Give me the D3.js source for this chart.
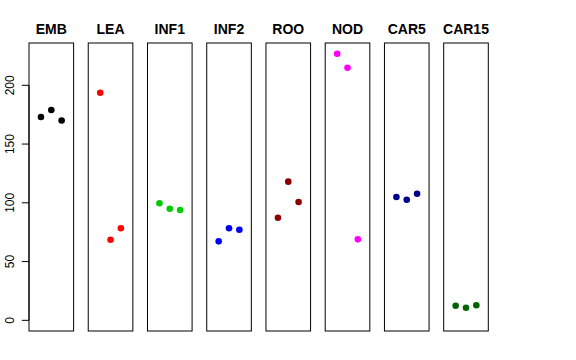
<!DOCTYPE html>
<html><head><meta charset="utf-8">
<script src="https://cdn.jsdelivr.net/npm/d3@7"></script>
<style>body{margin:0;background:#fff}svg{display:block}</style>
</head><body>
<script>
const categories = ["EMB","LEA","INF1","INF2","ROO","NOD","CAR5","CAR15"];
const colors = ["#000000","#FF0000","#00CD00","#0000FF","#8B0000","#FF00FF","#00008B","#006400"];
const rep1 = [173, 193.7, 99.6, 67.2, 87.3, 226.9, 104.9, 12.4];
const rep2 = [179, 68.6, 95.0, 78.3, 118.0, 215.0, 102.6, 10.7];
const rep3 = [170, 78.3, 93.9, 77.1, 100.7, 68.9, 107.7, 12.8];
const yTicks = [0, 50, 100, 150, 200];

const W = 576, H = 360;
const svg = d3.select("body").append("svg").attr("width", W).attr("height", H);

const panelTop = 43, panelBottom = 331;
const y = d3.scaleLinear().domain([-9.08, 236.0]).range([panelBottom, panelTop]);
const band = d3.scaleBand().domain(categories).range([29, 488.3]).paddingInner(0.247);
const bw = band.bandwidth();
const xin = d3.scaleLinear().domain([-0.16, 4.16]).range([0, bw]);

const reps = [rep1, rep2, rep3];

categories.forEach((c, i) => {
  const x0 = band(c);
  const g = svg.append("g");
  g.append("rect").attr("x", x0).attr("y", panelTop).attr("width", bw).attr("height", panelBottom - panelTop)
    .attr("fill", "none").attr("stroke", "#000").attr("stroke-width", 1);
  g.append("text").attr("x", x0 + bw / 2).attr("y", 34).attr("text-anchor", "middle")
    .attr("font-family", "Liberation Sans, Arial, sans-serif").attr("font-weight", "bold")
    .attr("font-size", 14).text(c);
  reps.forEach((r, j) => {
    g.append("circle").attr("cx", x0 + xin(j + 1)).attr("cy", y(r[i])).attr("r", 3.3)
      .attr("fill", colors[i]);
  });
});

// y axis on the first panel
const ax = svg.append("g").attr("transform", `translate(${band(categories[0])},0)`);
ax.append("line").attr("x1", 0).attr("x2", 0).attr("y1", y(0)).attr("y2", y(200)).attr("stroke", "#000");
yTicks.forEach(t => {
  ax.append("line").attr("x1", -7.2).attr("x2", 0).attr("y1", y(t)).attr("y2", y(t)).attr("stroke", "#000");
  ax.append("text").attr("transform", `translate(-15,${y(t)}) rotate(-90)`)
    .attr("text-anchor", "middle").attr("font-family", "Liberation Sans, Arial, sans-serif")
    .attr("font-size", 12).text(t);
});
</script>
</body></html>
